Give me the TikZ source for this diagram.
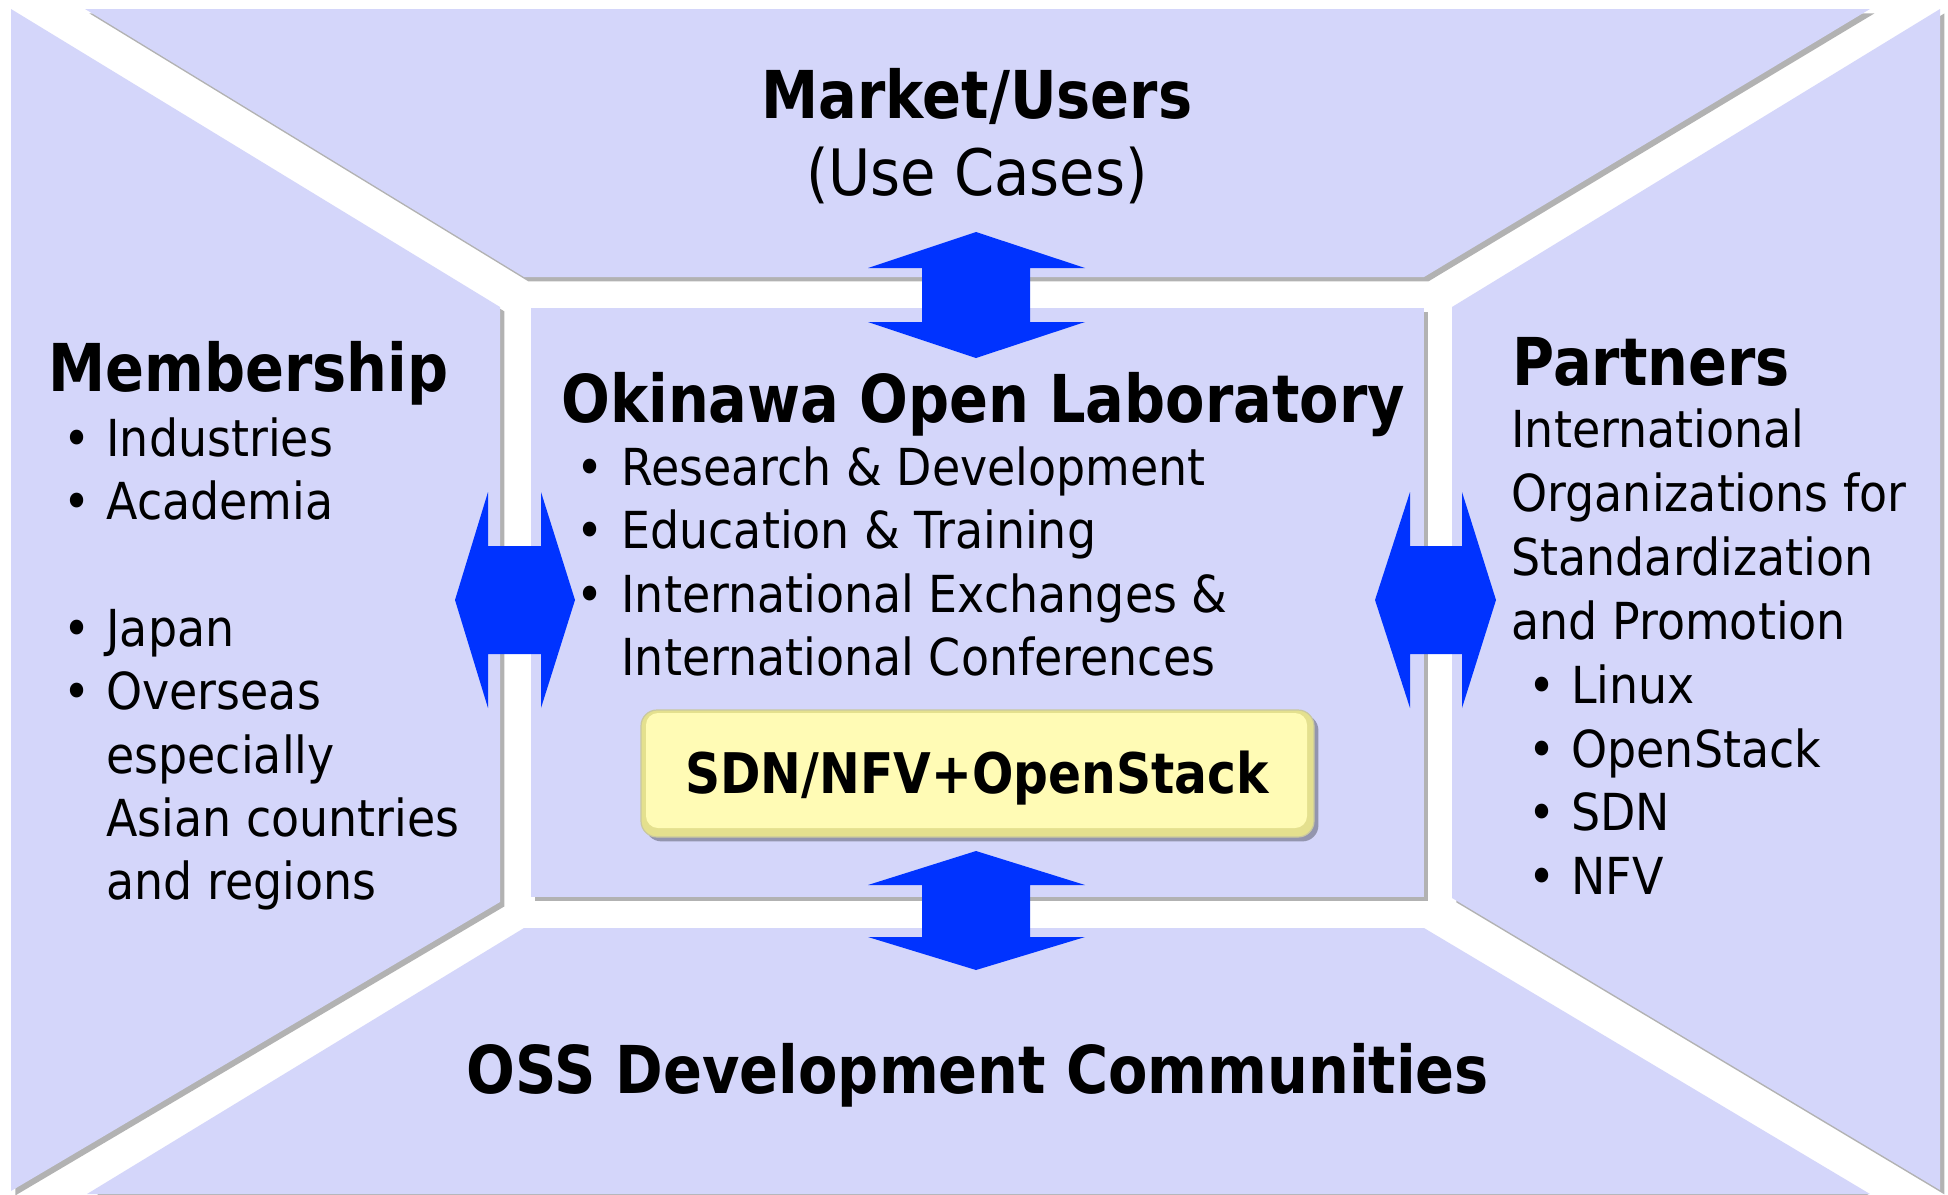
\documentclass[tikz,border=0pt]{standalone}
\usepackage{fontspec}
\setmainfont{DejaVu Sans}[FakeStretch=0.9]
\newfontfamily\hdfont{DejaVu Sans}[FakeStretch=0.87]
\usetikzlibrary{shadows}
\definecolor{panel}{HTML}{D4D6FA}
\definecolor{arrowblue}{HTML}{0033FF}
\definecolor{yel}{HTML}{FFFBB5}
\definecolor{yeledge}{HTML}{E4E08E}
\definecolor{yelline}{HTML}{C9C8A0}
\begin{document}
\begin{tikzpicture}[x=0.5pt,y=-0.5pt,
  shadowed/.style={drop shadow={shadow xshift=2.2pt, shadow yshift=-2.2pt, opacity=0.3, fill=black}},
  panelshape/.style={fill=panel, shadowed},
  hd/.style={font=\hdfont\bfseries\fontsize{33}{40}\selectfont, inner sep=0pt, anchor=base west},
  body/.style={font=\fontsize{25.5}{32}\selectfont, inner sep=0pt, anchor=base west},
  bul/.style={font=\fontsize{25.5}{32}\selectfont, inner sep=0pt, anchor=base},
  blockarrow/.style={fill=arrowblue}]
\useasboundingbox (0,0) rectangle (1948,1194);
\fill[white] (0,0) rectangle (1948,1194);
% panels
\path[panelshape] (85,9) -- (1870,9) -- (1424,277) -- (524,277) -- cycle;
\path[panelshape] (11,9) -- (500,307) -- (500,902) -- (11,1191) -- cycle;
\path[panelshape] (1940,9) -- (1452,307) -- (1452,898) -- (1940,1190) -- cycle;
\path[panelshape] (524,928) -- (1424,928) -- (1870,1194) -- (87,1194) -- cycle;
\node[panelshape, inner sep=0pt, minimum width=446.5pt, minimum height=294.5pt] (lab) at (977.5,602.5) {};
% block arrows
\fill[blockarrow] (976,232) -- (1085,268) -- (1030,268) -- (1030,322) -- (1085,322) -- (976,358)
  -- (868,322) -- (922,322) -- (922,268) -- (868,268) -- cycle;
\fill[blockarrow] (976,851) -- (1085,885) -- (1030,885) -- (1030,937) -- (1085,937) -- (976,970)
  -- (868,937) -- (922,937) -- (922,885) -- (868,885) -- cycle;
\fill[blockarrow] (455,600) -- (488,492) -- (488,546) -- (541,546) -- (541,492) -- (575,600)
  -- (541,708) -- (541,654) -- (488,654) -- (488,708) -- cycle;
\fill[blockarrow] (1375,600) -- (1410,492) -- (1410,546) -- (1462,546) -- (1462,492) -- (1496,600)
  -- (1462,708) -- (1462,654) -- (1410,654) -- (1410,708) -- cycle;
% yellow box
\node[fill=yeledge, draw=yelline, line width=0.6pt, rounded corners=8pt, shadowed,
  minimum width=336.5pt, minimum height=63.5pt, inner sep=0pt] (core) at (977.5,773.5) {};
\fill[yel, rounded corners=6pt] (646,713) rectangle (1307,828);
\node[font=\hdfont\bfseries\fontsize{28}{34}\selectfont, inner sep=0pt, anchor=base] (sdn) at (977,793) {SDN/NFV+OpenStack};
% top
\node[hd, anchor=base] (mkt) at (977,118) {Market/Users};
\node[font=\fontsize{32}{40}\selectfont, inner sep=0pt, anchor=base] (uc) at (977,195) {(Use Cases)};
% bottom
\node[hd, anchor=base] (oss) at (978,1093) {OSS Development Communities};
% membership
\node[hd] (mem) at (48,391) {Membership};
\foreach \n/\t/\y in {m1/Industries/456, m2/Academia/519, m3/Japan/646, m4/Overseas/709}{
  \node[bul] (\n b) at (77,\y) {•};
  \node[body] (\n) at (106,\y) {\t};
}
\node[body] (m5) at (106,773) {especially};
\node[body] (m6) at (106,836) {Asian countries};
\node[body] (m7) at (106,899) {and regions};
% center
\node[hd] (olab) at (561,422) {Okinawa Open Laboratory};
\node[bul] (c1b) at (590,485) {•};
\node[body] (c1) at (621,485) {Research \& Development};
\node[bul] (c2b) at (590,548) {•};
\node[body] (c2) at (621,548) {Education \& Training};
\node[bul] (c3b) at (590,612) {•};
\node[body] (c3) at (621,612) {International Exchanges \&};
\node[body] (c4) at (621,675) {International Conferences};
% partners
\node[hd] (part) at (1512,385) {Partners};
\node[body] (p1) at (1511,447) {International};
\node[body] (p2) at (1511,511) {Organizations for};
\node[body] (p3) at (1511,575) {Standardization};
\node[body] (p4) at (1511,639) {and Promotion};
\foreach \n/\t/\y in {p5/Linux/703, p6/OpenStack/767, p7/SDN/830, p8/NFV/894}{
  \node[bul] (\n b) at (1542,\y) {•};
  \node[body] (\n) at (1571,\y) {\t};
}
\end{tikzpicture}
\end{document}
